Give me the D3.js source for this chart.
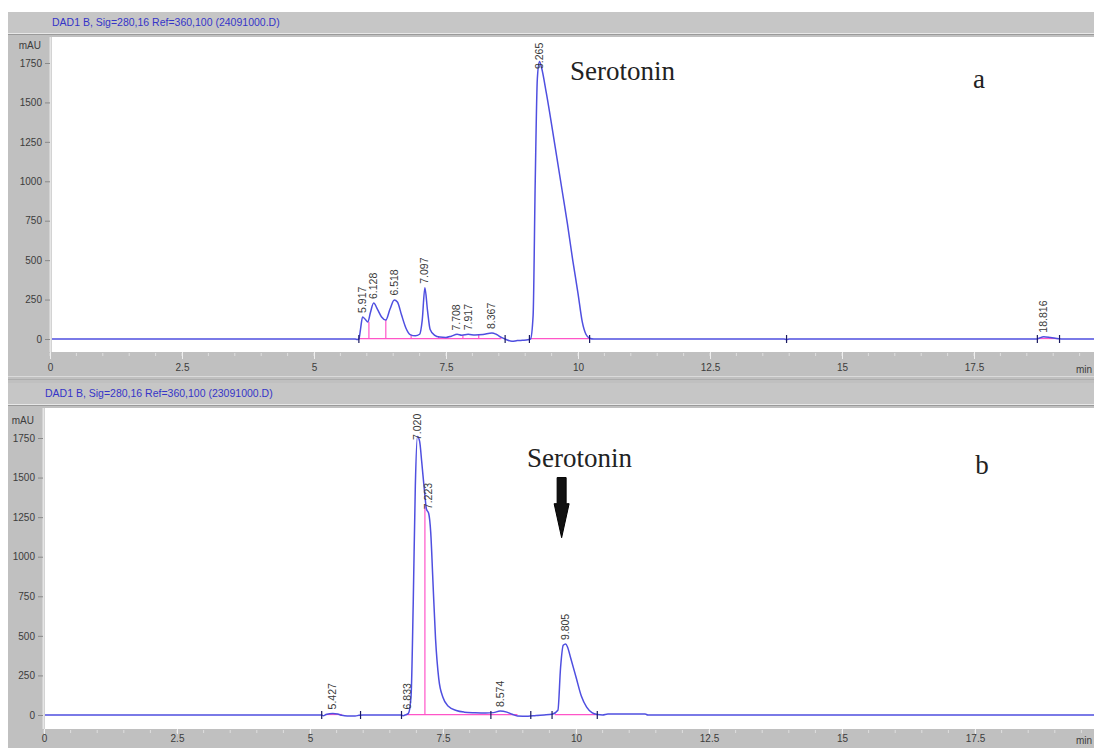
<!DOCTYPE html>
<html><head><meta charset="utf-8">
<script src="https://cdn.jsdelivr.net/npm/d3@7"></script>
<style>body{margin:0;background:#fff}svg{display:block}</style>
</head><body><svg id="c" width="1094" height="748"></svg>
<script>
// ---------- data ----------
const yTicks = [0, 250, 500, 750, 1000, 1250, 1500, 1750];
const xTicks = [0, 2.5, 5, 7.5, 10, 12.5, 15, 17.5];
const xTickLabels = ["0", "2.5", "5", "7.5", "10", "12.5", "15", "17.5"];
const xUnit = "min";
const yUnit = "mAU";
const headerA = "DAD1 B, Sig=280,16 Ref=360,100 (24091000.D)";
const headerB = "DAD1 B, Sig=280,16 Ref=360,100 (23091000.D)";

// chromatogram a (time in min, signal in mAU)
const traceATime = [0,5.78,5.82,5.85,5.88,5.92,5.97,6.02,6.07,6.13,6.2,6.28,6.36,6.44,6.52,6.58,6.66,6.74,6.82,6.92,7.0,7.05,7.1,7.15,7.2,7.28,7.38,7.5,7.6,7.71,7.8,7.92,8.05,8.2,8.37,8.45,8.55,8.65,8.75,8.85,8.95,9.05,9.1,9.15,9.19,9.23,9.27,9.31,9.4,9.5,9.6,9.7,9.8,9.9,10.0,10.08,10.15,10.22,10.3,13.9,13.95,14.0,18.7,18.74,18.82,18.95,19.1,19.2,20];
const traceASignal = [0,0,-3,0,60,140,125,108,170,228,190,140,120,190,248,235,150,70,28,20,30,120,325,180,60,25,12,10,18,30,24,30,25,28,38,30,10,-5,-15,-10,-8,-5,0,150,1000,1650,1760,1720,1560,1360,1150,940,730,500,290,110,30,5,0,0,-3,0,0,6,15,10,2,0,0];

// chromatogram b
const traceBTime = [0,5.22,5.25,5.3,5.43,5.52,5.6,5.7,5.85,5.92,6.0,6.7,6.75,6.8,6.85,6.9,6.94,6.98,7.02,7.06,7.1,7.15,7.19,7.23,7.27,7.31,7.36,7.42,7.5,7.6,7.75,7.9,8.1,8.3,8.45,8.574,8.7,8.8,8.9,9.1,9.25,9.4,9.55,9.66,9.71,9.76,9.805,9.84,9.9,10.0,10.1,10.2,10.3,10.4,10.5,10.6,11.3,11.35,20];
const traceBSignal = [0,0,-4,3,10,6,-2,-6,-6,-2,0,0,-4,2,10,120,700,1450,1760,1730,1600,1420,1300,1275,1150,850,480,230,110,55,28,18,14,12,15,25,18,5,-6,-8,-3,0,5,30,300,440,448,430,360,240,120,50,15,3,0,6,6,0,0];

// labelled peaks
const peakATimes = [5.917, 6.128, 6.518, 7.097, 7.708, 7.917, 8.367, 9.265, 18.816];
const peakALabels = ["5.917", "6.128", "6.518", "7.097", "7.708", "7.917", "8.367", "9.265", "18.816"];
const peakAHeights = [140, 228, 250, 325, 28, 30, 38, 1760, 15];

const peakBTimes = [5.427, 6.833, 7.020, 7.223, 8.574, 9.805];
const peakBLabels = ["5.427", "6.833", "7.020", "7.223", "8.574", "9.805"];
const peakBHeights = [10, 10, 1760, 1275, 25, 448];

// integration baselines and drop lines
const baselineAStart = [5.85, 9.1, 18.7];
const baselineAEnd = [8.55, 10.25, 19.1];
const dropATimes = [6.04, 6.36, 6.84, 7.36, 7.82, 8.12];
const dropAHeights = [110, 120, 26, 12, 24, 26];
const markA = [5.85, 8.62, 9.08, 10.22, 13.95, 18.7, 19.12];

const baselineBStart = [5.3, 6.8, 9.6];
const baselineBEnd = [5.6, 8.9, 10.4];
const dropBTimes = [7.16];
const dropBHeights = [1330];
const markB = [5.22, 5.95, 6.72, 8.4, 9.15, 9.55, 10.4];

// annotations
const compoundName = "Serotonin";
const panelNames = ["a", "b"];

// ---------- drawing ----------
const svg = d3.select("#c");
const W = 1094, H = 748;
const GRAY = "#c0c0c0";
const BLUE = "#4f4fe0";
const PINK = "#ff55c8";

svg.append("rect").attr("x", 8).attr("y", 12).attr("width", W - 8).attr("height", H - 12).attr("fill", GRAY);

const panels = [
  { header: headerA, headerY: 12, plotL: 52, plotT: 37, plotB: 352, x0: 50, x20: 1106, y0: 339, y1750: 63, labelR: 41,
    t: traceATime, s: traceASignal, pt: peakATimes, pl: peakALabels, ph: peakAHeights,
    bs: baselineAStart, be: baselineAEnd, dt: dropATimes, dh: dropAHeights, mk: markA,
    name: panelNames[0], nameX: 979, nameY: 88, serX: 570, serY: 80, arrow: false, tickLen: 7, tickPad: 5 },
  { header: headerB, headerY: 383, plotL: 45, plotT: 408, plotB: 729, x0: 44, x20: 1108, y0: 715, y1750: 438, labelR: 34,
    t: traceBTime, s: traceBSignal, pt: peakBTimes, pl: peakBLabels, ph: peakBHeights,
    bs: baselineBStart, be: baselineBEnd, dt: dropBTimes, dh: dropBHeights, mk: markB,
    name: panelNames[1], nameX: 982, nameY: 474, serX: 527, serY: 467, arrow: true, tickLen: 5, tickPad: 1 }
];

panels.forEach((p, i) => {
  const g = svg.append("g");
  const x = d3.scaleLinear().domain([0, 20]).range([p.x0, p.x20]);
  const y = d3.scaleLinear().domain([0, 1750]).range([p.y0, p.y1750]);

  // header band
  g.append("rect").attr("x", 8).attr("y", p.headerY).attr("width", W).attr("height", 21).attr("fill", "#c6c6c6");
  g.append("line").attr("x1", 8).attr("x2", W).attr("y1", p.headerY + 21.5).attr("y2", p.headerY + 21.5).attr("stroke", "#e8e8e8");
  g.append("line").attr("x1", 8).attr("x2", W).attr("y1", p.headerY + 22.5).attr("y2", p.headerY + 22.5).attr("stroke", "#9a9a9a");
  g.append("text").attr("x", p.plotL).attr("y", p.headerY + 14).attr("fill", "#3535c8")
    .attr("font-family", "Liberation Sans, Arial, sans-serif").attr("font-size", 10.5).text(p.header);

  // plot area
  g.append("rect").attr("x", p.plotL).attr("y", p.plotT).attr("width", W - p.plotL).attr("height", p.plotB - p.plotT).attr("fill", "#fff");
  g.append("line").attr("x1", p.plotL - 1.5).attr("x2", p.plotL - 1.5).attr("y1", p.plotT).attr("y2", p.plotB).attr("stroke", "#e6e6e6").attr("stroke-width", 2);

  // y axis
  const ya = g.append("g").attr("transform", `translate(${p.plotL - 2},0)`)
    .call(d3.axisLeft(y).tickValues(yTicks).tickSize(5).tickPadding(3).tickFormat(d3.format("d")));
  ya.select(".domain").remove();
  ya.selectAll("line").attr("stroke", "#8a8a8a");
  ya.selectAll("text").attr("fill", "#3c3c3c").attr("font-family", "Liberation Sans, Arial, sans-serif").attr("font-size", 10);
  g.append("text").attr("x", p.labelR).attr("y", p.y1750 - 14).attr("text-anchor", "end").attr("fill", "#3c3c3c")
    .attr("font-family", "Liberation Sans, Arial, sans-serif").attr("font-size", 10).text(yUnit);

  // x axis minor ticks
  const minor = d3.range(0, 20.01, 0.5);
  g.append("g").selectAll("line").data(minor).join("line")
    .attr("x1", d => x(d)).attr("x2", d => x(d)).attr("y1", p.plotB + 1).attr("y2", p.plotB + 4)
    .attr("stroke", "#dedede");
  const xa = g.append("g").attr("transform", `translate(0,${p.plotB})`)
    .call(d3.axisBottom(x).tickValues(xTicks).tickSize(p.tickLen).tickPadding(p.tickPad).tickFormat((d, k) => xTickLabels[k]));
  xa.select(".domain").remove();
  xa.selectAll("line").attr("stroke", "#eeeeee");
  xa.selectAll("text").attr("fill", "#3c3c3c").attr("font-family", "Liberation Sans, Arial, sans-serif").attr("font-size", 10);
  g.append("text").attr("x", W - 2).attr("y", p.plotB + p.tickLen + p.tickPad + 9).attr("text-anchor", "end").attr("fill", "#3c3c3c")
    .attr("font-family", "Liberation Sans, Arial, sans-serif").attr("font-size", 10).text(xUnit);

  if (i === 0) {
    svg.append("line").attr("x1", 8).attr("x2", W).attr("y1", 376.5).attr("y2", 376.5).attr("stroke", "#dadada");
    svg.append("line").attr("x1", 8).attr("x2", W).attr("y1", 379.5).attr("y2", 379.5).attr("stroke", "#adadad");
  }

  const clipId = "clip" + i;
  svg.append("clipPath").attr("id", clipId).append("rect")
    .attr("x", p.plotL).attr("y", p.plotT).attr("width", W - p.plotL).attr("height", p.plotB - p.plotT);
  const pg = g.append("g").attr("clip-path", `url(#${clipId})`);

  // pink baselines and drop lines
  pg.selectAll(".bl").data(p.bs).join("line")
    .attr("x1", d => x(d)).attr("x2", (d, k) => x(p.be[k]))
    .attr("y1", y(3)).attr("y2", y(3)).attr("stroke", PINK).attr("stroke-width", 1.2);
  pg.selectAll(".dl").data(p.dt).join("line")
    .attr("x1", d => x(d)).attr("x2", d => x(d))
    .attr("y1", y(3)).attr("y2", (d, k) => y(p.dh[k])).attr("stroke", PINK).attr("stroke-width", 1.2);

  // trace
  const pts = p.t.map((d, k) => [d, p.s[k]]);
  pg.append("path").datum(pts)
    .attr("fill", "none").attr("stroke", BLUE).attr("stroke-width", 1.5)
    .attr("d", d3.line().x(d => x(d[0])).y(d => y(d[1])).curve(d3.curveMonotoneX));

  // integration marks
  pg.selectAll(".mk").data(p.mk).join("line")
    .attr("x1", d => x(d)).attr("x2", d => x(d))
    .attr("y1", y(0) - 4).attr("y2", y(0) + 4).attr("stroke", "#1a1a60").attr("stroke-width", 1.2);

  // peak labels
  pg.selectAll(".pl").data(p.pt).join("text")
    .attr("transform", (d, k) => {
      const len = p.pl[k].length * 6.2;
      let yy = y(p.ph[k]) - 4;
      if (yy - len < p.plotT + 1) yy = p.plotT + 1 + len;
      return `translate(${x(d) + 3.5},${yy}) rotate(-90)`;
    })
    .attr("fill", "#3a3a3a").attr("font-family", "Liberation Sans, Arial, sans-serif").attr("font-size", 10.5)
    .text((d, k) => p.pl[k]);

  // annotations
  g.append("text").attr("x", p.serX).attr("y", p.serY).attr("fill", "#222")
    .attr("font-family", "Liberation Serif, Times New Roman, serif").attr("font-size", 27).text(compoundName);
  g.append("text").attr("x", p.nameX).attr("y", p.nameY).attr("text-anchor", "middle").attr("fill", "#222")
    .attr("font-family", "Liberation Serif, Times New Roman, serif").attr("font-size", 27).text(p.name);

  if (p.arrow) {
    const ax = x(peakBTimes[5]) - 4;
    const yTop = y(1500), yMid = y(1335), yTip = y(1120);
    const arrowPath = d3.path();
    arrowPath.moveTo(ax - 4.5, yTop);
    arrowPath.lineTo(ax + 4.5, yTop);
    arrowPath.lineTo(ax + 4.5, yMid);
    arrowPath.lineTo(ax + 7.5, yMid);
    arrowPath.lineTo(ax, yTip);
    arrowPath.lineTo(ax - 7.5, yMid);
    arrowPath.lineTo(ax - 4.5, yMid);
    arrowPath.closePath();
    g.append("path").attr("d", arrowPath.toString()).attr("fill", "#111").attr("stroke", "#000").attr("stroke-width", 1);
  }
});
</script>
</body></html>
